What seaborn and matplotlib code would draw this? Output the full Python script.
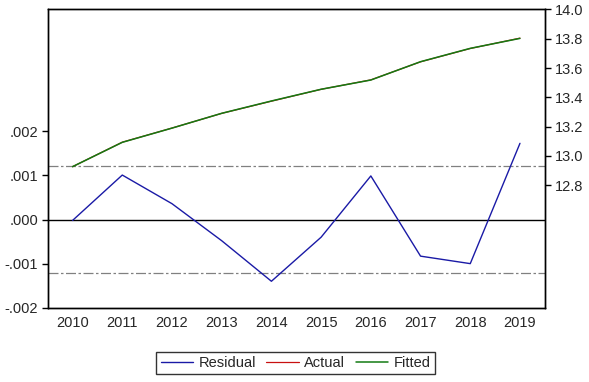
import matplotlib
matplotlib.use("Agg")
import matplotlib.pyplot as plt
import seaborn as sns
import pandas as pd

# data
years = [2010, 2011, 2012, 2013, 2014, 2015, 2016, 2017, 2018, 2019]
residual = [-0.00002, 0.00101, 0.00036, -0.00048, -0.00140, -0.00040,
            0.00099, -0.00083, -0.00100, 0.00173]
fitted = [12.927, 13.093, 13.190, 13.291, 13.375, 13.455,
          13.518, 13.643, 13.734, 13.802]
actual = [f + r for f, r in zip(fitted, residual)]
resid_sd = 0.00122

left_ticks = [-0.002, -0.001, 0.0, 0.001, 0.002]
left_labels = ["-.002", "-.001", ".000", ".001", ".002"]
right_ticks = [12.8, 13.0, 13.2, 13.4, 13.6, 13.8, 14.0]

df = pd.DataFrame({"pos": range(len(years)), "Residual": residual,
                   "Actual": actual, "Fitted": fitted})

sns.set_style("white")
plt.rcParams["font.family"] = ["Liberation Sans", "DejaVu Sans"]
plt.rcParams["font.size"] = 10.5

fig = plt.figure(figsize=(5.89, 3.82), dpi=100)
ax = fig.add_axes([0.081, 0.1945, 0.844, 0.781])
ax2 = ax.twinx()

# residual on left axis
sns.lineplot(data=df, x="pos", y="Residual", ax=ax, color="#1a1aa6",
             linewidth=1.0, label="Residual", legend=False)
ax.axhline(0, color="black", linewidth=1.0, zorder=1)
ax.axhline(resid_sd, color="#808080", linewidth=0.9, linestyle=(0, (8, 2, 2, 2)), zorder=1)
ax.axhline(-resid_sd, color="#808080", linewidth=0.9, linestyle=(0, (8, 2, 2, 2)), zorder=1)

# actual and fitted on right axis
sns.lineplot(data=df, x="pos", y="Actual", ax=ax2, color="#c81010",
             linewidth=0.9, label="Actual", legend=False)
sns.lineplot(data=df, x="pos", y="Fitted", ax=ax2, color="#137a13",
             linewidth=1.1, label="Fitted", legend=False)

ax.set_xlim(-0.5, len(years) - 0.5)
ax.set_ylim(-0.002, 0.00477)
ax2.set_ylim(11.965, 14.0)

ax.set_yticks(left_ticks)
ax.set_yticklabels(left_labels)
ax2.set_yticks(right_ticks)
ax2.set_yticklabels(["%.1f" % t for t in right_ticks])

# x ticks at category edges, labels at centres
ax.set_xticks([i - 0.5 for i in range(len(years) + 1)])
ax.set_xticklabels([])
ax.set_xticks(range(len(years)), minor=True)
ax.set_xticklabels([str(y) for y in years], minor=True)
ax.tick_params(axis="x", which="major", direction="out", length=5, width=1, color="black")
ax.tick_params(axis="x", which="minor", length=0, pad=6)
ax.tick_params(axis="y", direction="out", length=4, width=1, color="black", left=True, pad=3)
ax2.tick_params(axis="y", direction="out", length=4, width=1, color="black", right=True, pad=3)

ax.set_xlabel("")
ax.set_ylabel("")
ax2.set_ylabel("")
for a in (ax, ax2):
    for s in a.spines.values():
        s.set_color("black")
        s.set_linewidth(1.0)

handles = ax.get_lines()[:1] + ax2.get_lines()[:2]
leg = fig.legend(handles, ["Residual", "Actual", "Fitted"], loc="center",
                 bbox_to_anchor=(0.502, 0.05), ncol=3, frameon=True,
                 fancybox=False, handlelength=2.2, columnspacing=0.7,
                 borderpad=0.3, handletextpad=0.4, borderaxespad=0)
leg.get_frame().set_edgecolor("black")
leg.get_frame().set_linewidth(1.0)

fig.savefig("out.png", dpi=100)
